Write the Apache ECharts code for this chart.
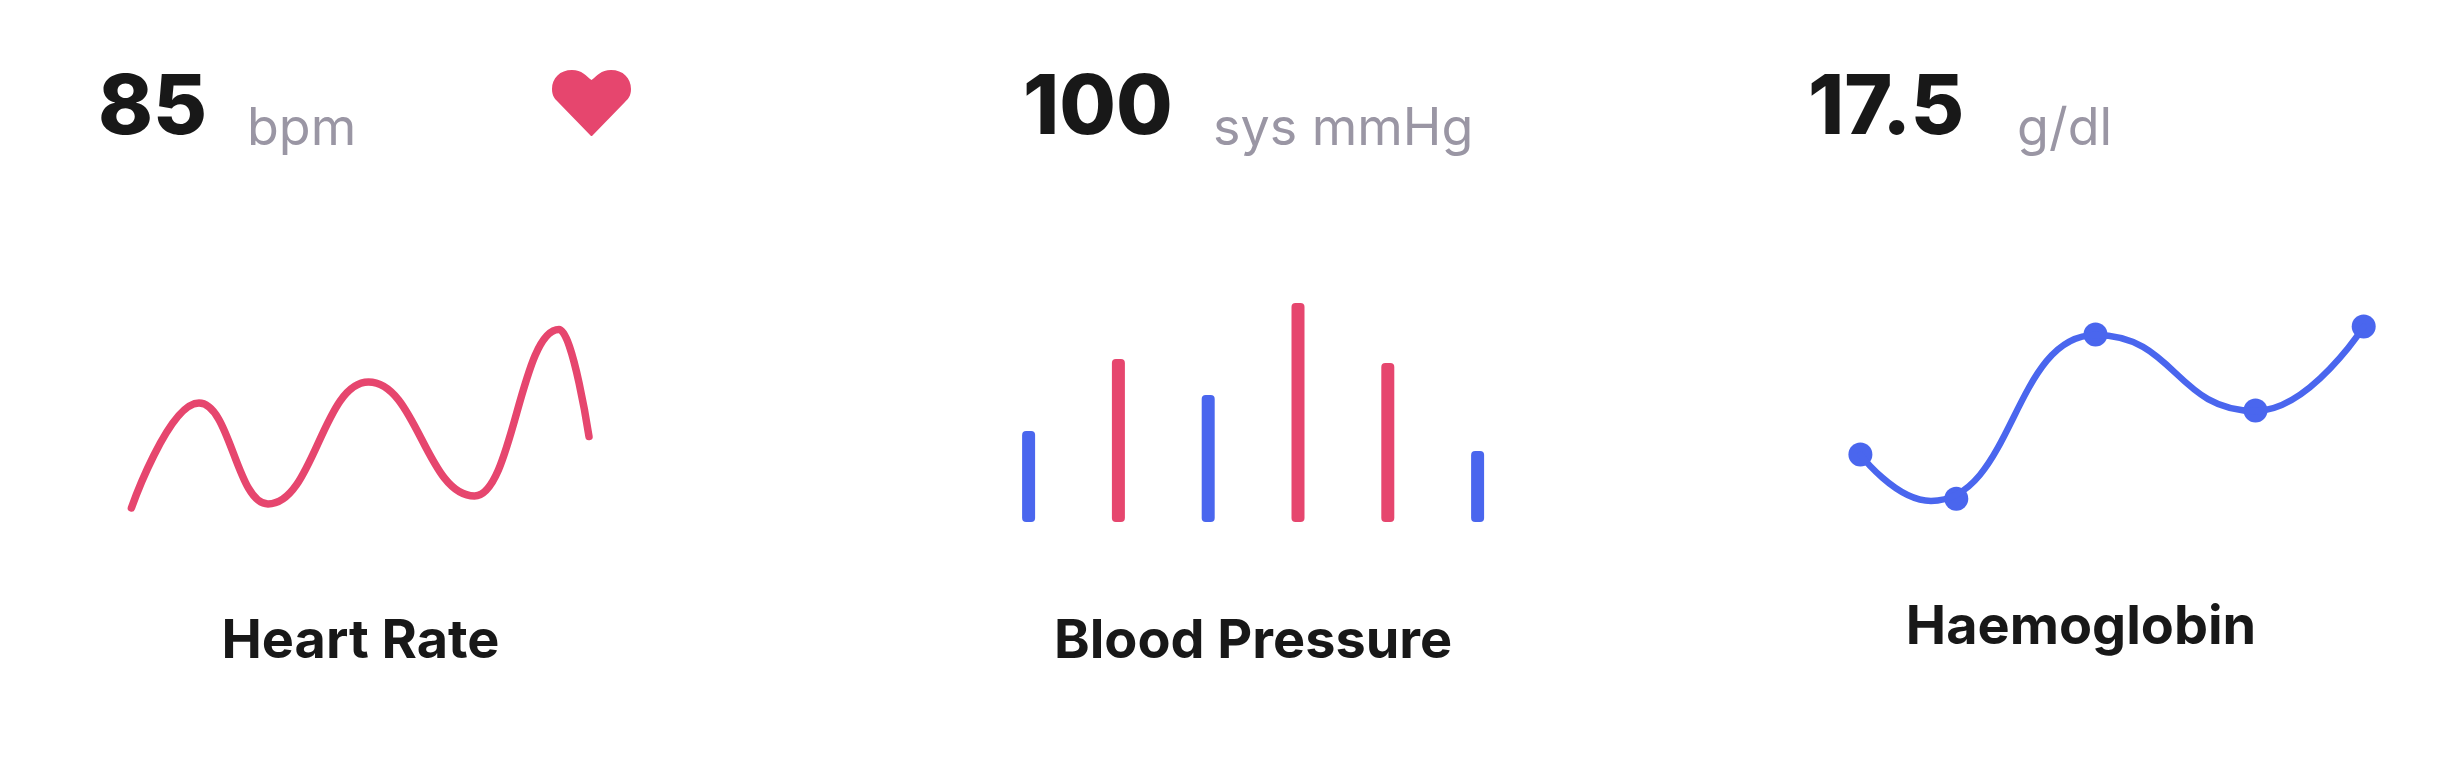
<!DOCTYPE html>
<html><head><meta charset="utf-8">
<style>html,body{margin:0;padding:0;background:#fff}#c{width:2439px;height:764px}</style>
<script src="https://cdn.jsdelivr.net/npm/echarts@6/dist/echarts.min.js"></script>
</head><body><div id="c"></div>
<script>
const metricValues = ['85', '100', '17.5'];
const metricUnits = ['bpm', 'sys mmHg', 'g/dl'];
const chartTitles = ['Heart Rate', 'Blood Pressure', 'Haemoglobin'];

const heartRate = [[11.4,32],[79,137],[148,36],[248.5,158],[354.5,44],[439,210.4],[469,103.5]];

const pressureCategories = ['1', '2', '3', '4', '5', '6'];
const pressureRed = [null, 163, null, 219, 159, null];
const pressureBlue = [91, null, 127, null, null, 71];

const haemoglobinCurve = [[20.4,85.4],[91,39.1],[255.5,205],[415.5,129],[523.7,213.4]];
const haemoglobinPoints = [[20.4,85.4],[116.3,41.2],[255.5,205.4],[415.5,129.6],[523.7,213.4]];

const RED = '#e6466e', BLUE = '#4a66ee', DARK = '#181818', GREY = '#9a96a4';
const FONT = 'Inter';
const HEART = 'path://M39.5 10 C34 6 30 0 20 0 C8 0 0 8 0 19 C0 26 3 29 6 32 L39 66 L40 66 L73 32 C76 29 79 26 79 19 C79 8 71 0 59 0 C49 0 45 6 39.5 10 Z';

function text(str, x, y, size, weight, color, align) {
  return { type: 'text', x, y, silent: true, style: { text: str, fontFamily: FONT, fontSize: size, fontWeight: weight, fill: color, align: align || 'left', verticalAlign: 'bottom' } };
}
const hidden = { show: false };
const chart = echarts.init(document.getElementById('c'), null, { renderer: 'canvas' });
chart.setOption({
  animation: false,
  backgroundColor: '#ffffff',
  grid: [
    { left: 120, top: 300, width: 480, height: 240 },
    { left: 983.7, top: 282, width: 538.8, height: 240 },
    { left: 1840, top: 300, width: 560, height: 240 },
    { left: 552, top: 70, width: 79, height: 66 }
  ],
  xAxis: [
    { type: 'value', gridIndex: 0, min: 0, max: 480, ...hidden },
    { type: 'category', gridIndex: 1, data: pressureCategories, ...hidden },
    { type: 'value', gridIndex: 2, min: 0, max: 560, ...hidden },
    { type: 'value', gridIndex: 3, min: 0, max: 1, ...hidden }
  ],
  yAxis: [
    { type: 'value', gridIndex: 0, min: 0, max: 240, ...hidden },
    { type: 'value', gridIndex: 1, min: 0, max: 240, ...hidden },
    { type: 'value', gridIndex: 2, min: 0, max: 240, ...hidden },
    { type: 'value', gridIndex: 3, min: 0, max: 1, ...hidden }
  ],
  series: [
    { type: 'line', name: 'Heart Rate', xAxisIndex: 0, yAxisIndex: 0, data: heartRate, smooth: 0.45, smoothMonotone: 'x', showSymbol: false,
      lineStyle: { color: RED, width: 7.5, cap: 'round', join: 'round' } },
    { type: 'bar', name: 'High', xAxisIndex: 1, yAxisIndex: 1, data: pressureRed, barWidth: 13, barGap: '-100%',
      itemStyle: { color: RED, borderRadius: 4 } },
    { type: 'bar', name: 'Low', xAxisIndex: 1, yAxisIndex: 1, data: pressureBlue, barWidth: 13, barGap: '-100%',
      itemStyle: { color: BLUE, borderRadius: 4 } },
    { type: 'line', name: 'Haemoglobin', xAxisIndex: 2, yAxisIndex: 2, data: haemoglobinCurve, smooth: 0.5, smoothMonotone: 'x', showSymbol: false,
      lineStyle: { color: BLUE, width: 6.5, cap: 'round', join: 'round' } },
    { type: 'scatter', name: 'Readings', xAxisIndex: 2, yAxisIndex: 2, data: haemoglobinPoints, symbol: 'circle', symbolSize: 24,
      itemStyle: { color: BLUE, opacity: 1 } },
    { type: 'scatter', name: 'Heart icon', xAxisIndex: 3, yAxisIndex: 3, data: [[0.5, 0.5]], symbol: HEART, symbolSize: [79, 66], symbolKeepAspect: false,
      itemStyle: { color: RED, opacity: 1 } }
  ],
  graphic: [
    text(metricValues[0], 98, 151, 83, 800, DARK),
    text(metricUnits[0], 247, 155, 52, 400, GREY),
    text(metricValues[1], 1023, 150, 82, 800, DARK),
    text(metricUnits[1], 1213, 155, 52, 400, GREY),
    text(metricValues[2], 1808, 150, 82, 800, DARK),
    text(metricUnits[2], 2017, 155, 52, 400, GREY),
    text(chartTitles[0], 360.5, 669, 54, 700, DARK, 'center'),
    text(chartTitles[1], 1253, 669, 54, 700, DARK, 'center'),
    text(chartTitles[2], 2081, 655, 54, 700, DARK, 'center')
  ]
});
</script></body></html>
